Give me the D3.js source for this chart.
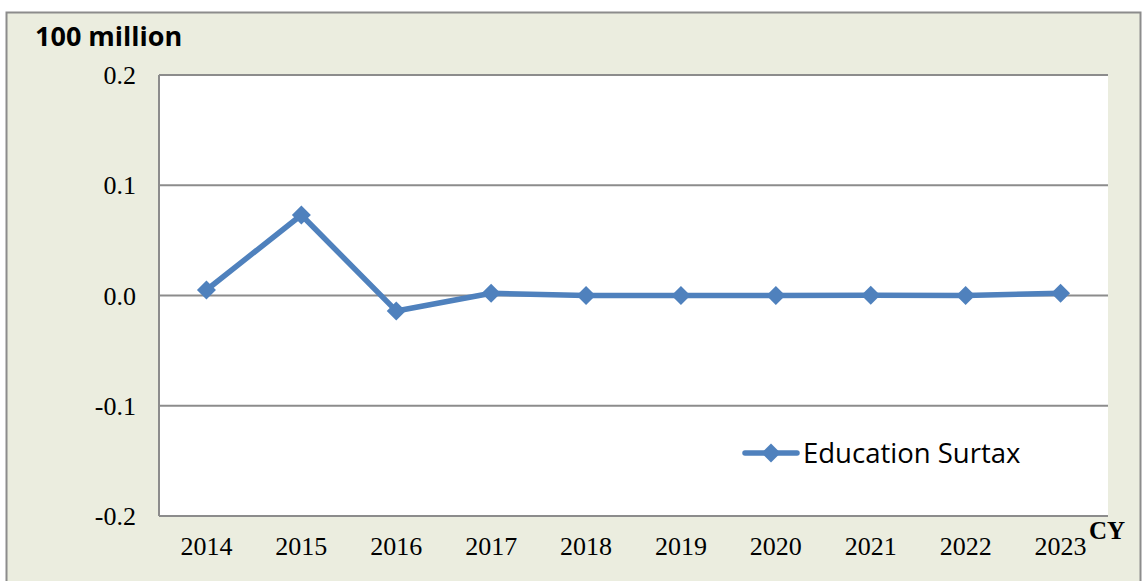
<!DOCTYPE html>
<html>
<head>
<meta charset="utf-8">
<script src="https://cdn.jsdelivr.net/npm/d3@7"></script>
<style>
  body{margin:0;background:#fff;}
  svg{display:block;}
</style>
</head>
<body>
<div id="chart"></div>
<script>
// data
const years = ["2014","2015","2016","2017","2018","2019","2020","2021","2022","2023"];
const surtax = [0.005, 0.073, -0.014, 0.002, 0.0, 0.0, 0.0, 0.0003, 0.0, 0.002];
const yTicks = [-0.2, -0.1, 0.0, 0.1, 0.2];
const seriesName = "Education Surtax";

const W = 1146, H = 581;
const plot = {left:159, right:1108, top:75, bottom:516};
const serif = "Liberation Serif, Times New Roman, serif";
const sans = "Open Sans, sans-serif";

const svg = d3.select("#chart").append("svg")
    .attr("width", W)
    .attr("height", H);

// outer chart frame
svg.append("rect")
    .attr("x", 6.5).attr("y", 12.5)
    .attr("width", 1134).attr("height", 600)
    .attr("fill", "#ebeddf")
    .attr("stroke", "#8c8c8c")
    .attr("stroke-width", 2);

// plot background
svg.append("rect")
    .attr("x", plot.left).attr("y", plot.top)
    .attr("width", plot.right - plot.left).attr("height", plot.bottom - plot.top)
    .attr("fill", "#fff");

const x = d3.scaleBand()
    .domain(years)
    .range([plot.left, plot.right]);

const y = d3.scaleLinear()
    .domain([-0.2, 0.2])
    .range([plot.bottom, plot.top]);

// gridlines
svg.append("g")
    .selectAll("line")
    .data(yTicks)
    .join("line")
    .attr("x1", plot.left).attr("x2", plot.right)
    .attr("y1", d => y(d)).attr("y2", d => y(d))
    .attr("stroke", "#8c8c8c")
    .attr("stroke-width", 2);

// left axis line
svg.append("line")
    .attr("x1", plot.left).attr("x2", plot.left)
    .attr("y1", plot.top).attr("y2", plot.bottom)
    .attr("stroke", "#8c8c8c")
    .attr("stroke-width", 2);

// y tick labels
svg.append("g")
    .selectAll("text")
    .data(yTicks)
    .join("text")
    .attr("x", 136)
    .attr("y", d => y(d) + 9)
    .attr("text-anchor", "end")
    .attr("font-family", serif)
    .attr("font-size", 26)
    .attr("fill", "#000")
    .text(d => d.toFixed(1));

// x tick labels
svg.append("g")
    .selectAll("text")
    .data(years)
    .join("text")
    .attr("x", d => x(d) + x.bandwidth()/2)
    .attr("y", 555)
    .attr("text-anchor", "middle")
    .attr("font-family", serif)
    .attr("font-size", 26)
    .attr("fill", "#000")
    .text(d => d);

// unit label
svg.append("text")
    .attr("x", 35).attr("y", 46)
    .attr("font-family", sans)
    .attr("font-weight", "bold")
    .attr("font-size", 27)
    .attr("fill", "#000")
    .text("100 million");

svg.append("text")
    .attr("x", 1089).attr("y", 539)
    .attr("font-family", serif)
    .attr("font-weight", "bold")
    .attr("font-size", 25)
    .attr("fill", "#000")
    .text("CY");

// series
const color = "#4f81bd";
const pts = years.map((yr, i) => ({yr, v: surtax[i]}));

const line = d3.line()
    .x(d => x(d.yr) + x.bandwidth()/2)
    .y(d => y(d.v));

svg.append("path")
    .datum(pts)
    .attr("d", line)
    .attr("fill", "none")
    .attr("stroke", color)
    .attr("stroke-width", 5.5)
    .attr("stroke-linejoin", "round");

const diamond = d3.symbol().type(d3.symbolDiamond2).size(230);

svg.append("g")
    .selectAll("path")
    .data(pts)
    .join("path")
    .attr("transform", d => `translate(${x(d.yr) + x.bandwidth()/2},${y(d.v)})`)
    .attr("d", diamond)
    .attr("fill", color);

// legend
const lg = svg.append("g").attr("transform", "translate(745,453)");
lg.append("line")
    .attr("x1", 0).attr("x2", 52)
    .attr("stroke", color)
    .attr("stroke-width", 5.5)
    .attr("stroke-linecap", "round");
lg.append("path")
    .attr("transform", "translate(26,0)")
    .attr("d", diamond)
    .attr("fill", color);
lg.append("text")
    .attr("x", 58).attr("y", 10)
    .attr("font-family", sans)
    .attr("font-size", 27.5)
    .attr("fill", "#000")
    .text(seriesName);
</script>
</body>
</html>
